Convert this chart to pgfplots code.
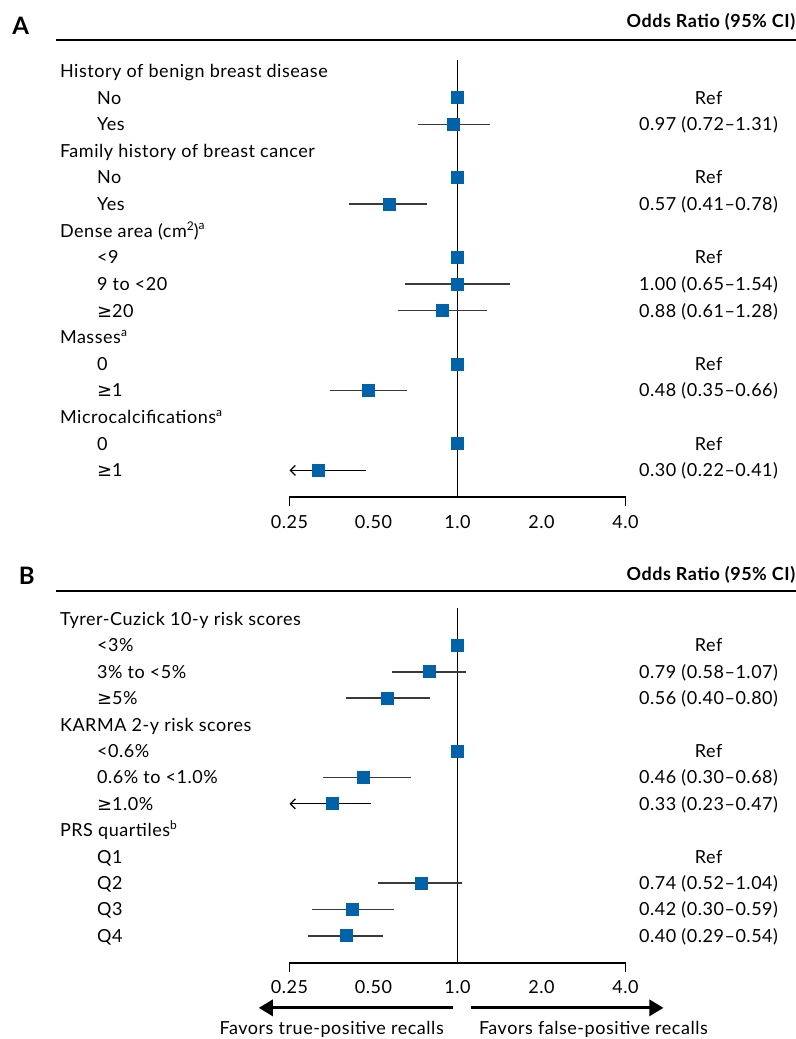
\documentclass[border=0pt]{standalone}
\usepackage{pgfplots}
\pgfplotsset{compat=1.18}
\usepackage{fontspec}
\setmainfont[LetterSpace=3]{Lato}
\newfontfamily\symf{DejaVu Sans}
\usetikzlibrary{arrows.meta}
\definecolor{sqblue}{HTML}{0062A8}
\definecolor{cigray}{HTML}{3A3A3A}
\newcommand{\ges}{{\symf\char"2265}}
\newcommand{\lab}[2]{\node[anchor=base west,inner sep=0pt,yshift=-3.2pt] at (axis cs:0.0375,#1) {#2};}
\newcommand{\sub}[2]{\node[anchor=base west,inner sep=0pt,yshift=-3.2pt] at (axis cs:0.0509,#1) {#2};}
\newcommand{\val}[2]{\node[anchor=base,inner sep=0pt,yshift=-3.2pt] at (axis cs:7.94,#1) {#2};}
\begin{document}
\begin{tikzpicture}[font=\fontsize{9}{10}\selectfont]
% ---------------- Panel A ----------------
\begin{axis}[scale only axis, width=168pt, xmode=log, log basis x=2,
  xmin=0.25, xmax=4, y dir=reverse, axis lines=none, clip=false,
  xtick=\empty, ytick=\empty, anchor=south west,
  name=A, at={(0,0)}, height=228.5pt, ymin=-0.165, ymax=17.0]
\coordinate (TL) at (axis cs:0.02292,-1.669);
\node[anchor=base west,inner sep=0pt,yshift=3pt,font=\fontsize{12}{13}\selectfont\bfseries] at (axis cs:0.0253,-0.165) {A};
\node[anchor=base east,inner sep=0pt,yshift=6.5pt,font=\fontsize{9}{10}\selectfont\bfseries] at (axis cs:16.27,-0.165) {Odds Ratio (95\% CI)};
\draw[line width=0.85pt] (axis cs:0.0363,-0.165) -- (axis cs:16.27,-0.165);
\draw[line width=0.8pt] (axis cs:1,0.6) -- (axis cs:1,17);
\draw[line width=0.75pt] (axis cs:0.25,17.34) -- (axis cs:0.25,17) -- (axis cs:4,17) -- (axis cs:4,17.34);
\node[anchor=base,inner sep=0pt,yshift=-15.5pt] at (axis cs:0.25,17) {0.25};
\node[anchor=base,inner sep=0pt,yshift=-15.5pt] at (axis cs:0.5,17) {0.50};
\node[anchor=base,inner sep=0pt,yshift=-15.5pt] at (axis cs:1,17) {1.0};
\node[anchor=base,inner sep=0pt,yshift=-15.5pt] at (axis cs:2,17) {2.0};
\node[anchor=base,inner sep=0pt,yshift=-15.5pt] at (axis cs:4,17) {4.0};
\addplot[cigray, line width=0.75pt] coordinates {(0.72,3) (1.31,3)};
\addplot[cigray, line width=0.75pt] coordinates {(0.41,6) (0.78,6)};
\addplot[cigray, line width=0.75pt] coordinates {(0.65,9) (1.54,9)};
\addplot[cigray, line width=0.75pt] coordinates {(0.61,10) (1.28,10)};
\addplot[cigray, line width=0.75pt] coordinates {(0.35,13) (0.66,13)};
\addplot[black, line width=0.6pt, -{Straight Barb[length=2.5pt,width=5pt]}] coordinates {(0.47,16) (0.25,16)};
\addplot[only marks, mark=square*, mark size=3pt, color=sqblue] coordinates {
(1,2) (0.97,3) (1,5) (0.57,6) (1,8) (1.00,9) (0.88,10) (1,12) (0.48,13) (1,15) (0.317,16)};
\lab{1}{History of benign breast disease}
\sub{2}{No} \val{2}{Ref}
\sub{3}{Yes} \val{3}{0.97 (0.72--1.31)}
\lab{4}{Family history of breast cancer}
\sub{5}{No} \val{5}{Ref}
\sub{6}{Yes} \val{6}{0.57 (0.41--0.78)}
\lab{7}{Dense area (cm\raisebox{0.35em}{\fontsize{6}{6}\selectfont 2})\raisebox{0.4em}{\fontsize{6}{6}\selectfont a}}
\sub{8}{<9} \val{8}{Ref}
\sub{9}{9 to <20} \val{9}{1.00 (0.65--1.54)}
\sub{10}{\ges20} \val{10}{0.88 (0.61--1.28)}
\lab{11}{Masses\raisebox{0.4em}{\fontsize{6}{6}\selectfont a}}
\sub{12}{0} \val{12}{Ref}
\sub{13}{\ges1} \val{13}{0.48 (0.35--0.66)}
\lab{14}{Microcalcifications\raisebox{0.4em}{\fontsize{6}{6}\selectfont a}}
\sub{15}{0} \val{15}{Ref}
\sub{16}{\ges1} \val{16}{0.30 (0.22--0.41)}
\end{axis}
% ---------------- Panel B ----------------
\begin{axis}[scale only axis, width=168pt, xmode=log, log basis x=2,
  xmin=0.25, xmax=4, y dir=reverse, axis lines=none, clip=false,
  xtick=\empty, ytick=\empty, anchor=south west,
  name=B, at={(0,-233pt)}, height=186pt, ymin=-0.061, ymax=14.03]
\coordinate (BR) at (axis cs:16.27,16.91);
\node[anchor=base west,inner sep=0pt,yshift=3.5pt,font=\fontsize{12}{13}\selectfont\bfseries] at (axis cs:0.0267,-0.061) {B};
\node[anchor=base east,inner sep=0pt,yshift=5.5pt,font=\fontsize{9}{10}\selectfont\bfseries] at (axis cs:16.27,-0.061) {Odds Ratio (95\% CI)};
\draw[line width=0.85pt] (axis cs:0.0363,-0.061) -- (axis cs:16.27,-0.061);
\draw[line width=0.8pt] (axis cs:1,0.58) -- (axis cs:1,14.03);
\draw[line width=0.75pt] (axis cs:0.25,14.37) -- (axis cs:0.25,14.03) -- (axis cs:4,14.03) -- (axis cs:4,14.37);
\node[anchor=base,inner sep=0pt,yshift=-15.3pt] at (axis cs:0.25,14.03) {0.25};
\node[anchor=base,inner sep=0pt,yshift=-15.3pt] at (axis cs:0.5,14.03) {0.50};
\node[anchor=base,inner sep=0pt,yshift=-15.3pt] at (axis cs:1,14.03) {1.0};
\node[anchor=base,inner sep=0pt,yshift=-15.3pt] at (axis cs:2,14.03) {2.0};
\node[anchor=base,inner sep=0pt,yshift=-15.3pt] at (axis cs:4,14.03) {4.0};
\draw[line width=1.5pt, -{Triangle[length=7pt,width=8pt]}] (axis cs:0.96,15.73) -- (axis cs:0.194,15.73);
\draw[line width=1.5pt, -{Triangle[length=7pt,width=8pt]}] (axis cs:1.113,15.73) -- (axis cs:5.47,15.73);
\node[anchor=base,inner sep=0pt,yshift=-36pt] at (axis cs:0.354,14.03) {Favors true-positive recalls};
\node[anchor=base west,inner sep=0pt,yshift=-36pt] at (axis cs:1.19,14.03) {Favors false-positive recalls};
\addplot[cigray, line width=0.75pt] coordinates {(0.58,3) (1.07,3)};
\addplot[cigray, line width=0.75pt] coordinates {(0.40,4) (0.80,4)};
\addplot[cigray, line width=0.75pt] coordinates {(0.33,7) (0.68,7)};
\addplot[black, line width=0.6pt, -{Straight Barb[length=2.5pt,width=5pt]}] coordinates {(0.49,8) (0.25,8)};
\addplot[cigray, line width=0.75pt] coordinates {(0.52,11) (1.04,11)};
\addplot[cigray, line width=0.75pt] coordinates {(0.30,12) (0.59,12)};
\addplot[cigray, line width=0.75pt] coordinates {(0.29,13) (0.54,13)};
\addplot[only marks, mark=square*, mark size=3pt, color=sqblue] coordinates {
(1,2) (0.79,3) (0.56,4) (1,6) (0.46,7) (0.355,8) (0.74,11) (0.42,12) (0.40,13)};
\lab{1}{Tyrer-Cuzick 10-y risk scores}
\sub{2}{<3\%} \val{2}{Ref}
\sub{3}{3\% to <5\%} \val{3}{0.79 (0.58--1.07)}
\sub{4}{\ges5\%} \val{4}{0.56 (0.40--0.80)}
\lab{5}{KARMA 2-y risk scores}
\sub{6}{<0.6\%} \val{6}{Ref}
\sub{7}{0.6\% to <1.0\%} \val{7}{0.46 (0.30--0.68)}
\sub{8}{\ges1.0\%} \val{8}{0.33 (0.23--0.47)}
\lab{9}{PRS quartiles\raisebox{0.4em}{\fontsize{6}{6}\selectfont b}}
\sub{10}{Q1} \val{10}{Ref}
\sub{11}{Q2} \val{11}{0.74 (0.52--1.04)}
\sub{12}{Q3} \val{12}{0.42 (0.30--0.59)}
\sub{13}{Q4} \val{13}{0.40 (0.29--0.54)}
\end{axis}
\pgfresetboundingbox
\path (TL) rectangle (BR);
\end{tikzpicture}
\end{document}
